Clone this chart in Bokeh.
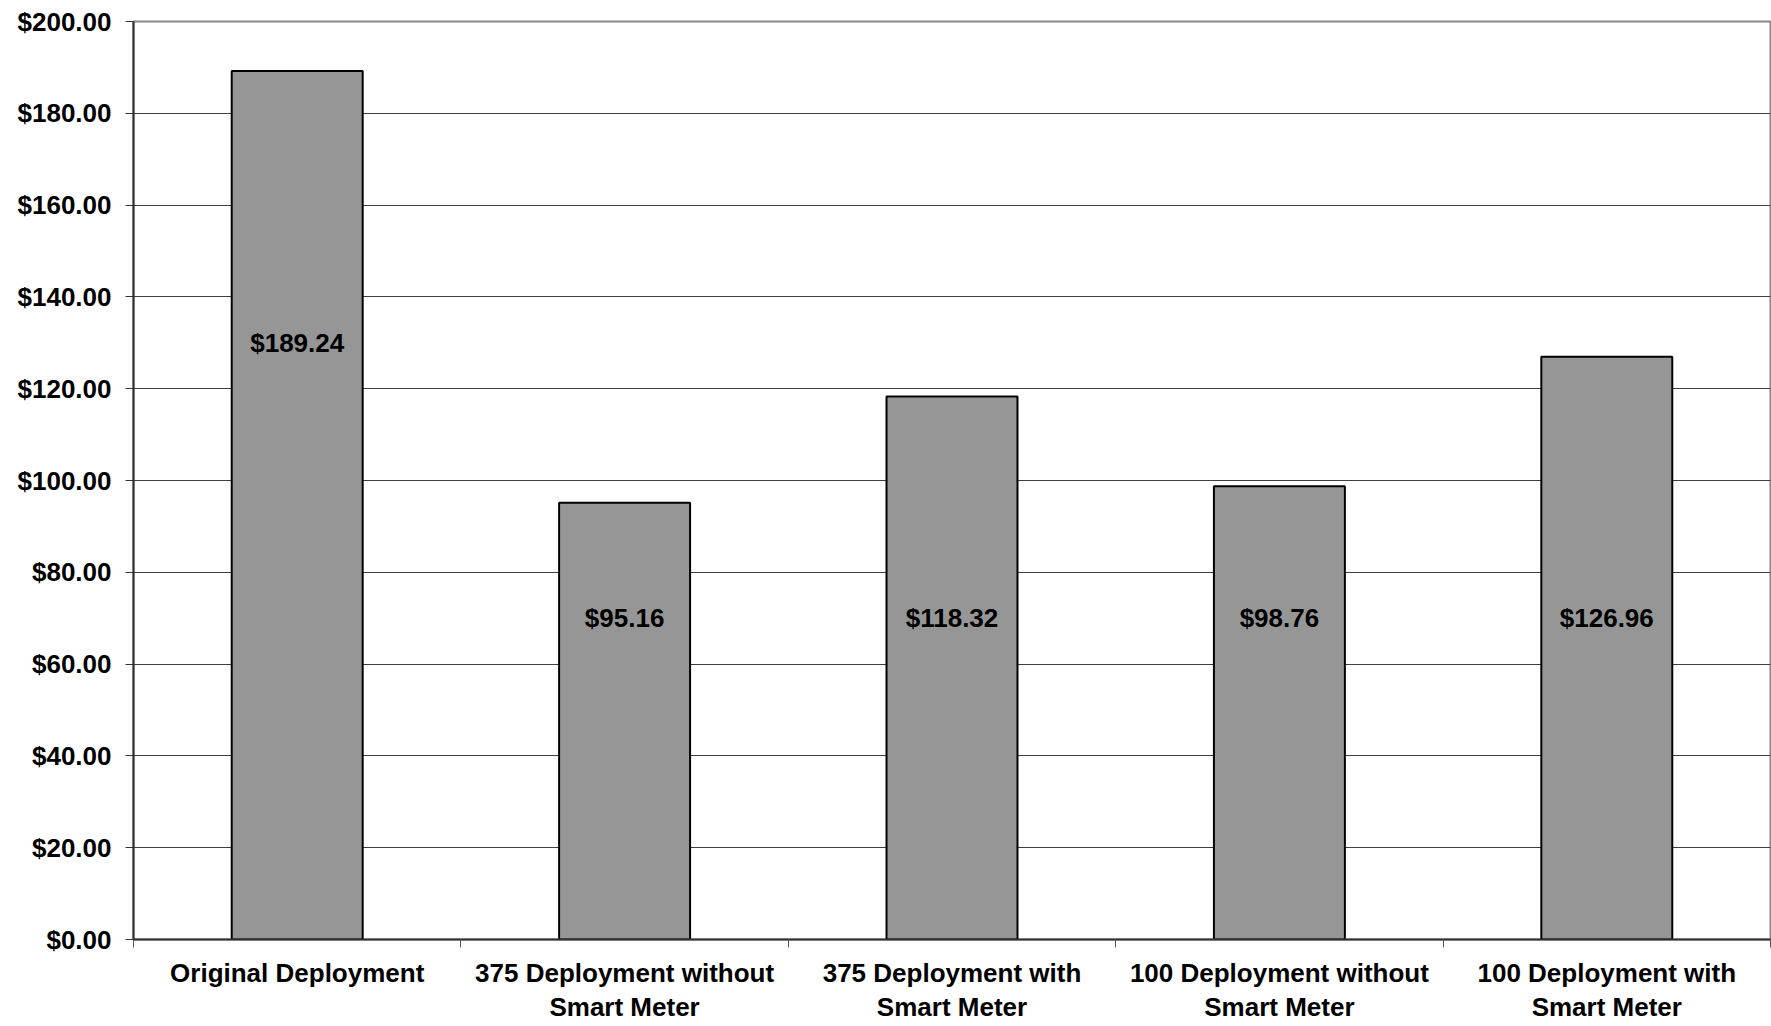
from bokeh.plotting import figure
from bokeh.models import FixedTicker, NumeralTickFormatter, Range1d, ColumnDataSource
from bokeh.core.properties import value
from bokeh.embed import file_html
from bokeh.resources import INLINE

categories = [
    "Original Deployment",
    "375 Deployment without\nSmart Meter",
    "375 Deployment with\nSmart Meter",
    "100 Deployment without\nSmart Meter",
    "100 Deployment with\nSmart Meter",
]
costs = [189.24, 95.16, 118.32, 98.76, 126.96]
value_labels = ["$189.24", "$95.16", "$118.32", "$98.76", "$126.96"]
label_y = [130, 70, 70, 70, 70]
y_ticks = list(range(0, 201, 20))

FONT = "Liberation Sans"

centers = [i + 0.5 for i in range(len(categories))]
bounds = [float(i) for i in range(len(categories) + 1)]

p = figure(width=1771, height=1026, output_backend="svg", toolbar_location=None,
           x_range=Range1d(0, len(categories)), y_range=Range1d(0, 200),
           min_border_left=133, min_border_right=1, min_border_top=21, min_border_bottom=87)
p.background_fill_color = "white"
p.border_fill_color = "white"
p.outline_line_color = "#888888"
p.outline_line_width = 2

src = ColumnDataSource(dict(x=centers, top=costs, ly=label_y, lab=value_labels))
p.vbar(x="x", top="top", width=0.4, bottom=0, source=src,
       fill_color="#969696", line_color="black", line_width=2)
p.text(x="x", y="ly", text="lab", source=src, text_align="center", text_baseline="middle",
       text_font=value(FONT), text_font_style="bold", text_font_size="26px", text_color="black")

# x axis
p.xaxis.ticker = FixedTicker(ticks=centers, minor_ticks=bounds)
p.xaxis.major_label_overrides = {c: lab for c, lab in zip(centers, categories)}
p.xaxis.major_tick_out = 0
p.xaxis.major_tick_in = 0
p.xaxis.minor_tick_out = 8
p.xaxis.minor_tick_in = 0
p.xaxis.minor_tick_line_color = "#555555"
p.xaxis.axis_line_color = "#333333"
p.xaxis.axis_line_width = 2
p.xaxis.major_label_standoff = 10
p.xaxis.major_label_text_font = FONT
p.xaxis.major_label_text_font_style = "bold"
p.xaxis.major_label_text_font_size = "26px"
p.xaxis.major_label_text_color = "black"
p.xaxis.major_label_text_line_height = 1.15

# y axis
p.yaxis.ticker = FixedTicker(ticks=y_ticks)
p.yaxis.formatter = NumeralTickFormatter(format="$0,0.00")
p.yaxis.major_tick_out = 8
p.yaxis.major_tick_in = 0
p.yaxis.minor_tick_out = 0
p.yaxis.minor_tick_in = 0
p.yaxis.major_tick_line_color = "#333333"
p.yaxis.axis_line_color = "#333333"
p.yaxis.axis_line_width = 2
p.yaxis.major_label_standoff = 14
p.yaxis.major_label_text_font = FONT
p.yaxis.major_label_text_font_style = "bold"
p.yaxis.major_label_text_font_size = "26px"
p.yaxis.major_label_text_color = "black"

p.xgrid.grid_line_color = None
p.ygrid.ticker = FixedTicker(ticks=y_ticks)
p.ygrid.grid_line_color = "#404040"
p.ygrid.grid_line_width = 1

open("out.html", "w").write(file_html(p, INLINE))
